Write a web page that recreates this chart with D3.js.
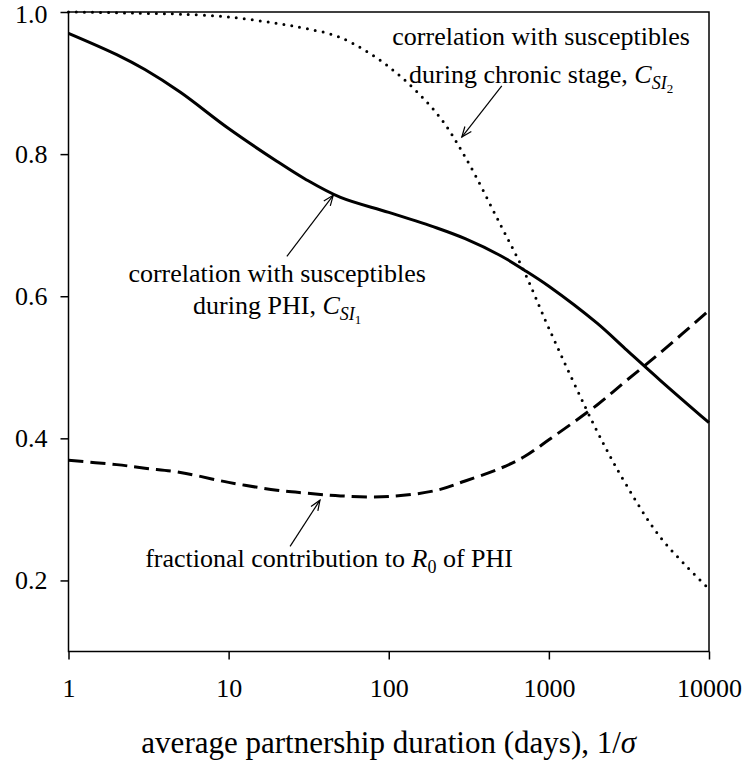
<!DOCTYPE html>
<html>
<head>
<meta charset="utf-8">
<script src="https://cdn.jsdelivr.net/npm/d3@7"></script>
<style>
  body { margin: 0; background: #fff; }
  svg { display: block; font-family: 'Liberation Serif', 'Times New Roman', serif; }
</style>
</head>
<body>
<div id="chart"></div>
<script>
// partnership duration (days)
const durations = [1, 2, 3, 5, 10, 20, 30, 50, 100, 200, 300, 500, 700, 1000, 2000, 3000, 5000, 10000];
// correlation with susceptibles during PHI, C_SI1 (solid)
const corrPHI = [0.970, 0.940, 0.919, 0.887, 0.836, 0.790, 0.765, 0.739, 0.718, 0.696, 0.681, 0.657, 0.637, 0.614, 0.562, 0.526, 0.481, 0.422];
// correlation with susceptibles during chronic stage, C_SI2 (dotted)
const corrChronic = [1.000, 0.999, 0.998, 0.997, 0.993, 0.984, 0.977, 0.964, 0.923, 0.857, 0.796, 0.700, 0.635, 0.555, 0.410, 0.337, 0.260, 0.188];
// fractional contribution to R0 of PHI (dashed)
const fracR0 = [0.369, 0.363, 0.358, 0.352, 0.338, 0.327, 0.323, 0.319, 0.318, 0.327, 0.340, 0.358, 0.374, 0.398, 0.447, 0.480, 0.521, 0.580];

const xTicks = [1, 10, 100, 1000, 10000];
const yTicks = [0.2, 0.4, 0.6, 0.8, 1.0];

const width = 745, height = 765;
const plot = { left: 68.5, right: 709, top: 12, bottom: 651.5 };

const svg = d3.select('#chart').append('svg')
  .attr('width', width)
  .attr('height', height);

const x = d3.scaleLog().domain([1, 10000]).range([plot.left, plot.right]);
const y = d3.scaleLinear().domain([0.1, 1.0]).range([plot.bottom, plot.top]);

// axes
const yAxis = d3.axisLeft(y)
  .tickValues(yTicks)
  .tickFormat(d3.format('.1f'))
  .tickSize(8)
  .tickPadding(13);
const xAxis = d3.axisBottom(x)
  .tickValues(xTicks)
  .tickFormat(d3.format('d'))
  .tickSize(8)
  .tickPadding(19);

const gy = svg.append('g')
  .attr('transform', `translate(${plot.left},0)`)
  .call(yAxis);
const gx = svg.append('g')
  .attr('transform', `translate(0,${plot.bottom})`)
  .call(xAxis);

[gx, gy].forEach(g => {
  g.select('.domain').remove();
  g.selectAll('line').attr('stroke', '#000').attr('stroke-width', 1.5);
  g.selectAll('text')
    .attr('fill', '#000')
    .style('font-family', "'Liberation Serif', serif")
    .style('font-size', '26px');
});
// keep the top label inside the picture
gy.selectAll('.tick').filter(d => d === 1.0).select('text').attr('dy', '0.42em');

svg.append('rect')
  .attr('x', plot.left)
  .attr('y', plot.top)
  .attr('width', plot.right - plot.left)
  .attr('height', plot.bottom - plot.top)
  .attr('fill', 'none')
  .attr('stroke', '#000')
  .attr('stroke-width', 1.5);

// curves
const line = d3.line()
  .x(d => x(d[0]))
  .y(d => y(d[1]))
  .curve(d3.curveCatmullRom.alpha(0.5));

const series = [
  { values: corrPHI, dash: null, cap: 'butt' },
  { values: corrChronic, dash: '0,8', cap: 'round' },
  { values: fracR0, dash: '15,7', cap: 'butt' }
];

svg.append('g').selectAll('path')
  .data(series)
  .enter()
  .append('path')
  .attr('d', d => line(durations.map((t, i) => [t, d.values[i]])))
  .attr('fill', 'none')
  .attr('stroke', '#000')
  .attr('stroke-width', 3)
  .attr('stroke-linecap', d => d.cap)
  .attr('stroke-dasharray', d => d.dash);

// annotation arrows (tail -> tip, in data units)
const arrows = [
  { from: [508, 0.896], to: [286, 0.824] },
  { from: [23.1, 0.656], to: [45, 0.742] },
  { from: [24.2, 0.248], to: [37.2, 0.313] }
];

const ga = svg.append('g')
  .attr('stroke', '#000')
  .attr('stroke-width', 1.2)
  .attr('fill', 'none');

arrows.forEach(a => {
  const x0 = x(a.from[0]), y0 = y(a.from[1]);
  const x1 = x(a.to[0]), y1 = y(a.to[1]);
  const ang = Math.atan2(y1 - y0, x1 - x0);
  const len = 11, spread = 0.38;
  const hx1 = x1 - len * Math.cos(ang - spread), hy1 = y1 - len * Math.sin(ang - spread);
  const hx2 = x1 - len * Math.cos(ang + spread), hy2 = y1 - len * Math.sin(ang + spread);
  ga.append('path').attr('d', `M${x0},${y0}L${x1},${y1}`);
  ga.append('path').attr('d', `M${hx1},${hy1}L${x1},${y1}L${hx2},${hy2}`);
});

// labels
function label(cx, cy, parts) {
  const t = svg.append('text')
    .attr('x', x(cx))
    .attr('y', cy)
    .attr('text-anchor', 'middle')
    .style('font-size', '26px');
  parts.forEach(p => {
    const s = t.append('tspan').text(p.text);
    if (p.italic) s.style('font-style', 'italic');
    if (p.size) s.style('font-size', p.size + 'px');
    if (p.dy) s.attr('dy', p.dy);
  });
  return t;
}

const yTop = y(0.9535);
label(894, yTop, [{ text: 'correlation with susceptibles' }]);
label(894, yTop + 37.5, [
  { text: 'during chronic stage, ' },
  { text: 'C', italic: true },
  { text: 'SI', italic: true, size: 18, dy: 6 },
  { text: '2', size: 13, dy: 4 }
]);

const yMid = y(0.620);
label(20.1, yMid, [{ text: 'correlation with susceptibles' }]);
label(20.1, yMid + 31.6, [
  { text: 'during PHI, ' },
  { text: 'C', italic: true },
  { text: 'SI', italic: true, size: 18, dy: 6 },
  { text: '1', size: 13, dy: 4 }
]);

label(42.4, y(0.219), [
  { text: 'fractional contribution to ' },
  { text: 'R', italic: true },
  { text: '0', size: 18, dy: 6 },
  { text: ' of PHI', dy: -6 }
]);

// x axis title
const title = svg.append('text')
  .attr('x', (plot.left + plot.right) / 2)
  .attr('y', 753)
  .attr('text-anchor', 'middle')
  .style('font-size', '31px');
title.append('tspan').text('average partnership duration (days), 1/');
title.append('tspan').style('font-style', 'italic').text('σ');
</script>
</body>
</html>
